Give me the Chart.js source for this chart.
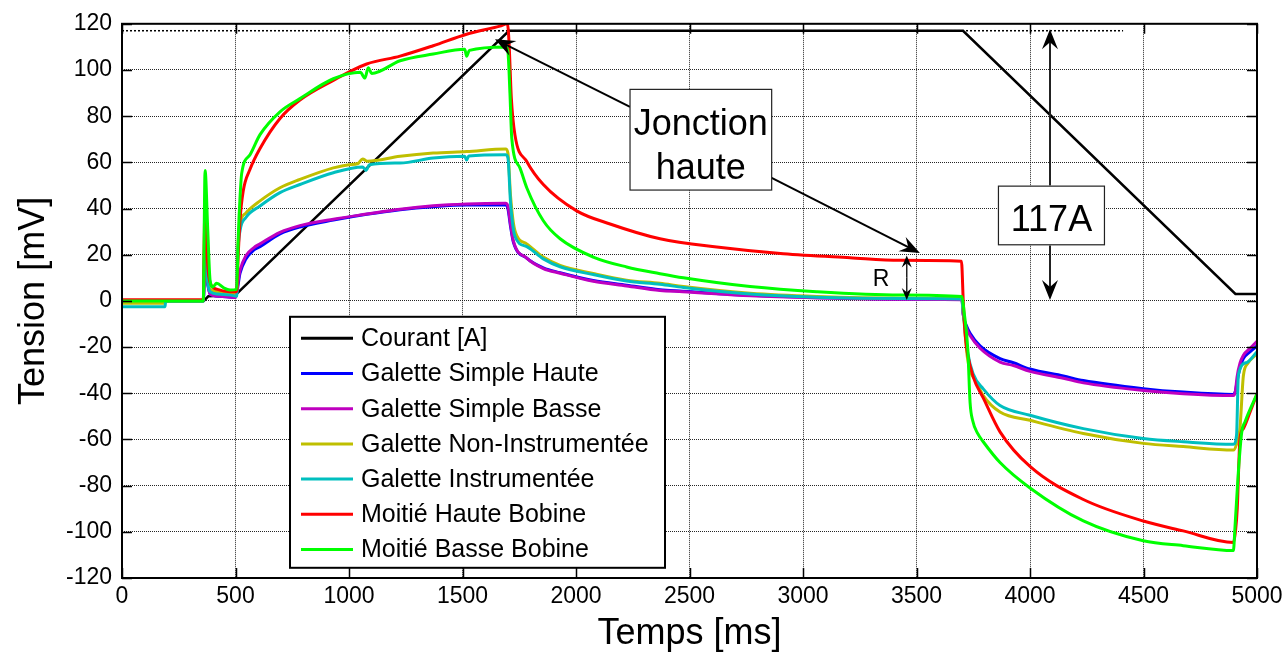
<!DOCTYPE html>
<html>
<head>
<meta charset="utf-8">
<script src="https://cdn.jsdelivr.net/npm/chart.js@4/dist/chart.umd.min.js"></script>
<style>
    body { margin: 0; background: #fff; }
    canvas { display: block; }
</style>
</head>
<body>
<canvas id="tensionChart" width="1288" height="656"></canvas>
<script>
// [temps ms, valeur] pairs for each trace
const courant = [[0, 0], [360, 0], [380, 2], [500, 2.5], [505, 3], [1705, 117], [3705, 117], [4905, 3], [5000, 3]];
const niveau117 = [[0, 117], [4410, 117]];

const galetteHaute = [[0, 0], [358, 0], [366, 15], [376, 8], [388, 3], [430, 2], [500, 1.5], [507, 4], [513, 8], [520, 12],
    [545, 18], [580, 22], [608, 23.5], [696, 29], [784, 32], [931, 35], [1078, 37.5], [1225, 39.5], [1371, 40.8], [1518, 41.5],
    [1690, 41.5], [1700, 40], [1712, 32], [1724, 25.5], [1783, 18.5], [1856, 14.3], [1930, 12.2], [2076, 8.8], [2223, 6.8], [2370, 4.8],
    [2470, 4.2], [2770, 2.4], [3060, 1.5], [3430, 0.8], [3700, 0.6], [3706, -6], [3721, -11], [3736, -14], [3780, -19.5], [3868, -25],
    [3927, -26.8], [4000, -29.5], [4147, -32.5], [4235, -34.5], [4499, -38], [4675, -39.5], [4896, -40.5], [4905, -39], [4912, -35], [4925, -29],
    [4940, -25], [4970, -22], [5000, -19.5]];

const galetteBasse = [[0, 0], [358, 0], [366, 17], [376, 9], [388, 3], [430, 2], [500, 1.5], [507, 5], [513, 9.5], [520, 13.3],
    [545, 19.5], [580, 23], [608, 24.7], [696, 29.7], [784, 32.6], [931, 35.4], [1078, 37.6], [1225, 39.7], [1371, 41.2], [1518, 42],
    [1690, 42.3], [1700, 41], [1712, 33], [1724, 26], [1783, 18.5], [1856, 14], [1930, 12], [2076, 8.5], [2223, 6.5], [2370, 4.5],
    [2470, 4], [2770, 2.2], [3060, 1.3], [3430, 0.7], [3700, 0.5], [3706, -6], [3721, -12], [3736, -15], [3780, -20.5], [3868, -26.5],
    [3927, -28], [4000, -30.5], [4147, -33.5], [4235, -35.5], [4499, -38.8], [4675, -40.2], [4896, -41], [4905, -39], [4912, -33], [4925, -27],
    [4940, -23.5], [4970, -20.5], [5000, -17.5]];

const galetteNonInstr = [[0, -1], [190, -1], [192, 0], [358, 0], [366, 40], [376, 14], [388, 5], [420, 4], [480, 3.5], [505, 3],
    [510, 22], [520, 33.3], [545, 38], [608, 43.3], [696, 49], [784, 52.6], [931, 57.6], [1000, 59], [1040, 59.5], [1060, 61.5],
    [1080, 60.5], [1225, 62.6], [1371, 64], [1518, 64.7], [1690, 65.8], [1700, 64], [1712, 45], [1731, 30.4], [1783, 24.7], [1856, 19],
    [1930, 15.4], [2076, 11.9], [2223, 9], [2370, 7.6], [2473, 6.2], [2767, 3.3], [3060, 1.9], [3427, 1.2], [3700, 1], [3706, -5],
    [3725, -25], [3765, -35.3], [3794, -41], [3868, -48.1], [4000, -51.7], [4235, -57.4], [4499, -61.7], [4675, -63.1], [4896, -64.6], [4910, -62],
    [4925, -55], [4940, -32.4], [4960, -27], [5000, -23]];

const galetteInstr = [[0, -2.5], [190, -2.5], [192, 0], [358, 0], [366, 30], [376, 10], [388, 4], [420, 3], [480, 2.5], [505, 2],
    [510, 20], [520, 30.4], [545, 36], [608, 41.1], [696, 46.9], [784, 50.4], [931, 55.5], [1060, 58], [1075, 56.5], [1090, 59],
    [1225, 59.7], [1371, 61.9], [1510, 62.6], [1518, 61], [1528, 62.8], [1690, 63.3], [1700, 62], [1712, 42], [1731, 28], [1783, 23.5],
    [1856, 18.2], [1930, 14.8], [2076, 11.4], [2223, 8.6], [2370, 7.2], [2473, 5.8], [2767, 3], [3060, 1.6], [3427, 1], [3700, 0.8],
    [3706, -5], [3725, -22], [3750, -31.7], [3794, -38.1], [3868, -45.3], [4000, -49.5], [4235, -55.3], [4499, -59.6], [4675, -61], [4896, -62.1],
    [4910, -58], [4918, -32], [4954, -26.7], [5000, -22]];

const moitieHaute = [[0, 0.5], [358, 0.5], [366, 45], [376, 18], [388, 8], [420, 5], [476, 4], [505, 4], [512, 20], [520, 35],
    [534, 47.6], [564, 57], [608, 66], [696, 79], [784, 87], [931, 95.5], [1078, 102.6], [1225, 106], [1371, 110.5], [1518, 115.5],
    [1665, 119], [1698, 120], [1705, 112], [1715, 88], [1731, 71.9], [1783, 60.4], [1856, 50.4], [2003, 39], [2150, 33.3], [2370, 26.9],
    [2620, 23.3], [2913, 20.4], [3207, 18.7], [3427, 17.6], [3698, 17.2], [3706, 0], [3715, -15], [3725, -23], [3750, -33], [3794, -42],
    [3868, -56.7], [4000, -71.7], [4235, -86], [4499, -95.3], [4675, -99.6], [4896, -104.6], [4905, -100], [4913, -90], [4925, -59.6], [4940, -55.3],
    [4970, -48], [5000, -40.3]];

const moitieBasse = [[0, 0], [358, 0], [366, 56.5], [378, 30], [388, 9], [400, 6], [417, 7.6], [450, 5.5], [476, 4.7], [505, 5],
    [513, 30], [520, 45], [527, 55], [564, 63.3], [608, 72], [696, 81.9], [784, 87.6], [931, 96.2], [1050, 99], [1070, 96.5],
    [1085, 101], [1100, 98.5], [1225, 104], [1371, 106.9], [1510, 109], [1518, 106], [1530, 108.5], [1690, 110], [1700, 108], [1709, 90],
    [1717, 70.5], [1753, 57.6], [1783, 49], [1856, 34.7], [1930, 26.9], [2076, 19], [2223, 14.7], [2370, 11.8], [2473, 10], [2767, 6.2],
    [3060, 4], [3427, 2.6], [3700, 1.9], [3710, -5], [3726, -21], [3736, -44], [3748, -52], [3770, -57.5], [3794, -61], [3868, -70],
    [4000, -81], [4235, -95.3], [4499, -103.9], [4675, -106], [4896, -108.1], [4903, -98], [4918, -73.9], [4933, -56.7], [4947, -52.4], [5000, -40.3]];

const xTicks = {min: 0, max: 5000, step: 500};
const yTicks = {min: -120, max: 120, step: 20};

const FONT = "'Liberation Sans', Arial, Helvetica, sans-serif";

function toPoints(pairs) {
    return pairs.map(([x, y]) => ({x, y}));
}

function trace(label, pairs, color, width, smooth) {
    return {
        label: label,
        data: toPoints(pairs),
        borderColor: color,
        backgroundColor: color,
        borderWidth: width,
        pointRadius: 0,
        fill: false,
        tension: 0,
        cubicInterpolationMode: smooth ? 'monotone' : 'default'
    };
}

const datasets = [
    trace('Courant [A]', courant, '#000000', 2.5, false),
    trace('Galette Simple Haute', galetteHaute, '#0000ff', 3, true),
    trace('Galette Simple Basse', galetteBasse, '#bf00bf', 3, true),
    trace('Galette Non-Instrumentée', galetteNonInstr, '#bfbf00', 3, true),
    trace('Galette Instrumentée', galetteInstr, '#00bfbf', 3, true),
    trace('Moitié Haute Bobine', moitieHaute, '#ff0000', 3, true),
    trace('Moitié Basse Bobine', moitieBasse, '#00ff00', 3, true),
    {
        label: '',
        data: toPoints(niveau117),
        borderColor: '#000',
        borderWidth: 1.5,
        borderDash: [2, 2],
        pointRadius: 0,
        fill: false
    }
];
// last curve drawn on top
datasets.forEach((d, i) => { d.order = datasets.length - i; });
datasets[datasets.length - 1].order = 20;

function arrowHead(ctx, x0, y0, x1, y1, len, half) {
    const ang = Math.atan2(y1 - y0, x1 - x0);
    ctx.save();
    ctx.translate(x1, y1);
    ctx.rotate(ang);
    ctx.beginPath();
    ctx.moveTo(0, 0);
    ctx.lineTo(-len, -half);
    ctx.lineTo(-len * 0.65, 0);
    ctx.lineTo(-len, half);
    ctx.closePath();
    ctx.fill();
    ctx.restore();
}

function arrow(ctx, x0, y0, x1, y1, len, half) {
    const ang = Math.atan2(y1 - y0, x1 - x0);
    ctx.beginPath();
    ctx.moveTo(x0, y0);
    ctx.lineTo(x1 - Math.cos(ang) * len * 0.6, y1 - Math.sin(ang) * len * 0.6);
    ctx.stroke();
    arrowHead(ctx, x0, y0, x1, y1, len, half);
}

function textBox(ctx, x0, y0, x1, y1) {
    ctx.fillStyle = '#fff';
    ctx.fillRect(x0, y0, x1 - x0, y1 - y0);
    ctx.strokeStyle = '#222';
    ctx.lineWidth = 1.2;
    ctx.strokeRect(x0, y0, x1 - x0, y1 - y0);
}

// frame around the plot with inward ticks on all four sides
const axesBox = {
    id: 'axesBox',
    afterDatasetsDraw(chart) {
        const {ctx, chartArea: a, scales: {x, y}} = chart;
        ctx.save();
        ctx.strokeStyle = '#000';
        ctx.lineWidth = 1.5;
        ctx.beginPath();
        x.ticks.forEach(t => {
            const px = Math.round(x.getPixelForValue(t.value)) + 0.5;
            ctx.moveTo(px, a.bottom); ctx.lineTo(px, a.bottom - 10);
            ctx.moveTo(px, a.top); ctx.lineTo(px, a.top + 10);
        });
        y.ticks.forEach(t => {
            const py = Math.round(y.getPixelForValue(t.value)) + 0.5;
            ctx.moveTo(a.left, py); ctx.lineTo(a.left + 10, py);
            ctx.moveTo(a.right, py); ctx.lineTo(a.right - 10, py);
        });
        ctx.stroke();
        ctx.lineWidth = 2;
        ctx.strokeRect(a.left, a.top, a.right - a.left, a.bottom - a.top);
        ctx.restore();
    }
};

// arrows and labels placed in data units
const notes = {
    id: 'notes',
    afterDatasetsDraw(chart) {
        const {ctx, scales: {x, y}} = chart;
        const px = v => x.getPixelForValue(v);
        const py = v => y.getPixelForValue(v);
        ctx.save();
        ctx.strokeStyle = '#000';
        ctx.fillStyle = '#000';
        ctx.lineWidth = 2;

        // Jonction haute
        arrow(ctx, px(2238), py(84), px(1643), py(113.3), 20, 8);
        arrow(ctx, px(2862), py(53.3), px(3515), py(20.7), 20, 8);
        const jx0 = px(2238), jy0 = py(91.6), jx1 = px(2862), jy1 = py(48);
        textBox(ctx, jx0, jy0, jx1, jy1);
        ctx.fillStyle = '#000';
        ctx.font = '36px ' + FONT;
        ctx.textAlign = 'center';
        ctx.textBaseline = 'alphabetic';
        ctx.fillText('Jonction', (jx0 + jx1) / 2, jy0 + 46);
        ctx.fillText('haute', (jx0 + jx1) / 2, jy0 + 90);

        // 117A double arrow
        ctx.lineWidth = 2;
        arrow(ctx, px(4088), py(50), px(4088), py(117.6), 20, 8);
        arrow(ctx, px(4088), py(24), px(4088), py(0.4), 20, 8);
        const bx0 = px(3861), by0 = py(49.7), bx1 = px(4328), by1 = py(24.3);
        textBox(ctx, bx0, by0, bx1, by1);
        ctx.fillStyle = '#000';
        ctx.font = '36px ' + FONT;
        ctx.fillText('117A', (bx0 + bx1) / 2, by0 + 44.5);

        // R between the two plateaus
        ctx.lineWidth = 1.5;
        const rMid = (py(19.7) + py(0.4)) / 2;
        arrow(ctx, px(3457), rMid, px(3457), py(19.7), 12, 5);
        arrow(ctx, px(3457), rMid, px(3457), py(0.4), 12, 5);
        ctx.font = '23px ' + FONT;
        ctx.fillText('R', px(3344), rMid + 8);
        ctx.restore();
    }
};

// legend box inside the plot area
const legendBox = {
    id: 'legendBox',
    afterDraw(chart) {
        const {ctx, chartArea: a} = chart;
        const x0 = a.left + 168, y0 = a.top + 293, w = 375, h = 251;
        ctx.save();
        ctx.fillStyle = '#fff';
        ctx.fillRect(x0, y0, w, h);
        ctx.strokeStyle = '#000';
        ctx.lineWidth = 2;
        ctx.strokeRect(x0, y0, w, h);
        ctx.font = '25px ' + FONT;
        ctx.textAlign = 'left';
        ctx.textBaseline = 'middle';
        chart.data.datasets.filter(d => d.label).forEach((d, i) => {
            const ly = y0 + 21.5 + i * 35.2;
            ctx.strokeStyle = d.borderColor;
            ctx.lineWidth = 3;
            ctx.beginPath();
            ctx.moveTo(x0 + 11, ly);
            ctx.lineTo(x0 + 63, ly);
            ctx.stroke();
            ctx.fillStyle = '#000';
            ctx.fillText(d.label, x0 + 71, ly + 1);
        });
        ctx.restore();
    }
};

const gridStyle = {color: 'rgba(0,0,0,0.85)', lineWidth: 1, drawTicks: false};
const borderStyle = {display: false, dash: [1, 1]};

new Chart(document.getElementById('tensionChart'), {
    type: 'line',
    data: {datasets: datasets},
    options: {
        responsive: false,
        animation: false,
        devicePixelRatio: 1,
        layout: {padding: {top: 18, right: 31, left: 0, bottom: 0}},
        plugins: {
            legend: {display: false},
            tooltip: {enabled: false}
        },
        scales: {
            x: {
                type: 'linear',
                min: xTicks.min,
                max: xTicks.max,
                grid: gridStyle,
                border: borderStyle,
                ticks: {
                    stepSize: xTicks.step, padding: 5, color: '#000', maxRotation: 0,
                    font: {family: FONT, size: 23},
                    callback: v => String(v)
                },
                title: {display: true, text: 'Temps [ms]', color: '#000', font: {family: FONT, size: 36}, padding: {top: 0, bottom: 0}},
                afterFit: s => { s.height = 78; }
            },
            y: {
                min: yTicks.min,
                max: yTicks.max,
                grid: gridStyle,
                border: borderStyle,
                ticks: {
                    stepSize: yTicks.step, padding: 10, color: '#000',
                    font: {family: FONT, size: 23},
                    callback: v => String(v)
                },
                title: {display: true, text: 'Tension [mV]', color: '#000', font: {family: FONT, size: 36}, padding: {top: 12, bottom: 0}},
                afterFit: s => { s.width = 122; }
            }
        }
    },
    plugins: [axesBox, notes, legendBox]
});
</script>
</body>
</html>
